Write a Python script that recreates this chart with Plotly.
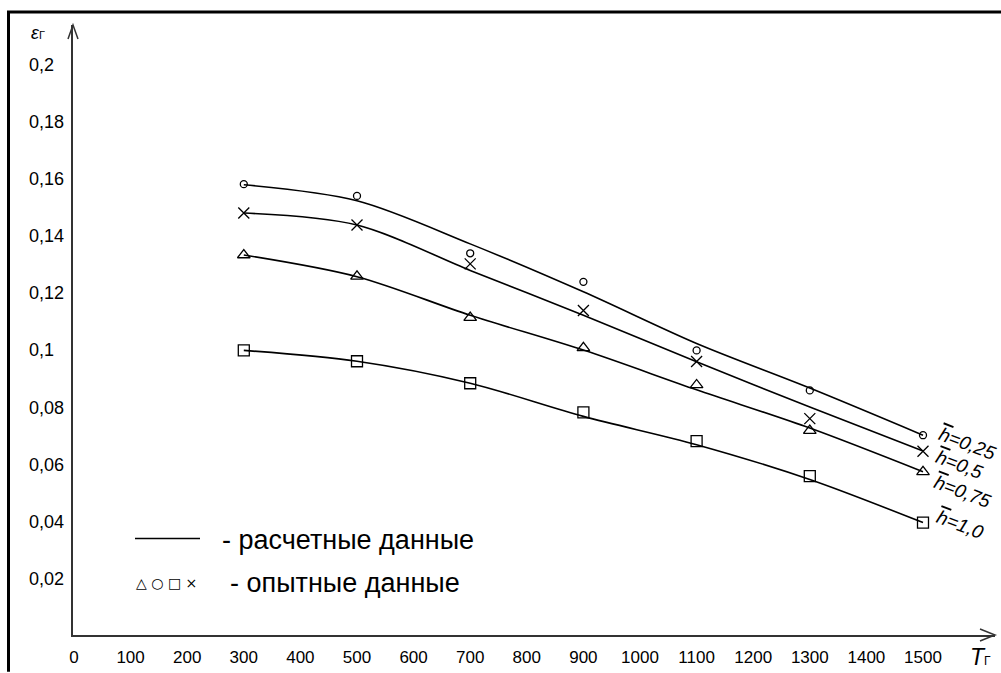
import plotly.graph_objects as go

# Gas temperature, K
T = [300, 500, 700, 900, 1100, 1300, 1500]

# Calculated emissivity curves for each relative height h
calc_025 = [0.1580, 0.1524, 0.1373, 0.1205, 0.1024, 0.0868, 0.0703]
calc_05 = [0.1481, 0.1439, 0.1280, 0.1123, 0.0960, 0.0802, 0.0648]
calc_075 = [0.1334, 0.1258, 0.1123, 0.1001, 0.0862, 0.0728, 0.0575]
calc_10 = [0.1000, 0.0962, 0.0885, 0.0769, 0.0670, 0.0548, 0.0397]

# Experimental points
exp_025 = [0.1582, 0.1541, 0.1340, 0.1240, 0.1000, 0.0860, 0.0703]
exp_05 = [0.1481, 0.1439, 0.1303, 0.1140, 0.0961, 0.0761, 0.0647]
exp_075 = [0.1334, 0.1259, 0.1115, 0.1009, 0.0879, 0.0719, 0.0575]
exp_10 = [0.1000, 0.0962, 0.0885, 0.0783, 0.0682, 0.0560, 0.0397]

curve_labels = ["0,25", "0,5", "0,75", "1,0"]

x_ticks = list(range(0, 1600, 100))
x_ticktext = [str(v) for v in x_ticks]
y_ticks = [0.02, 0.04, 0.06, 0.08, 0.10, 0.12, 0.14, 0.16, 0.18, 0.20]
y_ticktext = ["0,02", "0,04", "0,06", "0,08", "0,1", "0,12", "0,14", "0,16", "0,18", "0,2"]

W, H = 1001, 673
ML, MR, MT, MB = 73, 6, 25, 35
PW, PH = W - ML - MR, H - MT - MB


def px_x(p):
    return (p - ML) / PW


def px_y(p):
    return (H - MB - p) / PH


FONT = "Liberation Sans, Arial, sans-serif"
INK = "#000000"
AXIS = "#333333"

fig = go.Figure()

series = [
    (calc_025, exp_025, "circle-open", 7),
    (calc_05, exp_05, "x-thin-open", 11),
    (calc_075, exp_075, "triangle-up-open", 11),
    (calc_10, exp_10, "square-open", 11),
]

for calc, exp, sym, size in series:
    fig.add_trace(go.Scatter(
        x=T, y=calc, mode="lines",
        line=dict(color=INK, width=1.6, shape="spline", smoothing=0.9),
        hoverinfo="skip", showlegend=False,
    ))
    fig.add_trace(go.Scatter(
        x=T, y=exp, mode="markers",
        marker=dict(symbol=sym, size=size, color=INK, line=dict(color=INK, width=1.3)),
        showlegend=False,
    ))

annotations = []

# h labels at the right end of each curve
label_shifts = [(44, -8), (36, -14), (39, -20), (37, -2)]
for (calc, _, _, _), lab, (dx, dy) in zip(series, curve_labels, label_shifts):
    annotations.append(dict(
        x=T[-1], y=calc[-1], xref="x", yref="y",
        text="<i><span style='text-decoration:overline'>h</span>=" + lab + "</i>",
        showarrow=False,
        xanchor="center", yanchor="middle", xshift=dx, yshift=dy,
        textangle=21, font=dict(family=FONT, size=19, color=INK),
    ))

# y tick labels, left aligned
for v, t in zip(y_ticks, y_ticktext):
    annotations.append(dict(
        x=px_x(27), y=v, xref="paper", yref="y", text=t, showarrow=False,
        xanchor="left", yanchor="middle", font=dict(family=FONT, size=18, color=INK),
    ))

# axis titles
annotations.append(dict(
    x=px_x(29), y=px_y(33), xref="paper", yref="paper",
    text="<i>ε</i><span style='font-size:11px'>Г</span>", showarrow=False,
    xanchor="left", yanchor="middle", font=dict(family=FONT, size=18, color=INK),
))
annotations.append(dict(
    x=px_x(968), y=px_y(660), xref="paper", yref="paper",
    text="<i>T</i><span style='font-size:12px'>Г</span>", showarrow=False,
    xanchor="left", yanchor="middle", font=dict(family=FONT, size=23, color=INK),
))

# legend block
annotations.append(dict(
    x=px_x(220), y=px_y(543), xref="paper", yref="paper",
    text="- расчетные данные", showarrow=False,
    xanchor="left", yanchor="middle", font=dict(family=FONT, size=27, color=INK),
))
annotations.append(dict(
    x=px_x(134), y=px_y(586), xref="paper", yref="paper",
    text="△ ○ □ ×", showarrow=False,
    xanchor="left", yanchor="middle", font=dict(family="DejaVu Sans, sans-serif", size=14, color=INK),
))
annotations.append(dict(
    x=px_x(228), y=px_y(586), xref="paper", yref="paper",
    text="- опытные данные", showarrow=False,
    xanchor="left", yanchor="middle", font=dict(family=FONT, size=27, color=INK),
))

shapes = [
    # frame
    dict(type="line", xref="paper", yref="paper", x0=px_x(8.5), x1=px_x(8.5),
         y0=px_y(11), y1=px_y(H + 2), line=dict(color=INK, width=3)),
    dict(type="line", xref="paper", yref="paper", x0=px_x(7), x1=px_x(W + 2),
         y0=px_y(12), y1=px_y(12), line=dict(color=INK, width=3)),
    # legend line sample
    dict(type="line", xref="paper", yref="paper", x0=px_x(135), x1=px_x(200),
         y0=px_y(541), y1=px_y(541), line=dict(color=INK, width=1.6)),
    # open arrowheads on the axes
    dict(type="path", xref="paper", yref="paper", xsizemode="pixel", ysizemode="pixel",
         xanchor=1, yanchor=0, path="M -15,6 L 0,0 L -15,-6",
         line=dict(color=AXIS, width=1.5)),
    dict(type="path", xref="paper", yref="paper", xsizemode="pixel", ysizemode="pixel",
         xanchor=0, yanchor=1, path="M -5,-14 L 0,0 L 5,-14",
         line=dict(color=AXIS, width=1.5)),
]

x0 = (ML - 74) / 0.566
x1 = (W - MR - 74) / 0.566
y0 = (639 - (H - MB)) / 2870
y1 = (639 - MT) / 2870

fig.update_layout(
    width=W, height=H,
    margin=dict(l=ML, r=MR, t=MT, b=MB, pad=0),
    paper_bgcolor="white", plot_bgcolor="white",
    showlegend=False,
    xaxis=dict(range=[x0, x1], showgrid=False, zeroline=False, showline=True,
               linecolor=AXIS, linewidth=2, ticks="", tickvals=x_ticks, ticktext=x_ticktext,
               tickfont=dict(family=FONT, size=17, color=INK), ticklabelstandoff=6),
    yaxis=dict(range=[y0, y1], showgrid=False, zeroline=False, showline=True,
               linecolor=AXIS, linewidth=1.5, ticks="", showticklabels=False),
    annotations=annotations,
    shapes=shapes,
)

fig.write_html("out.html")
